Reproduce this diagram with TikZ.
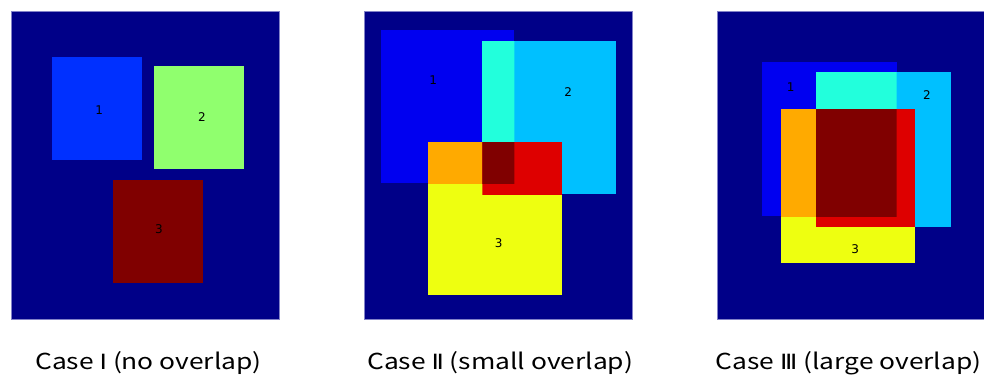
\documentclass[tikz,border=0pt]{standalone}
\usepackage{fontspec}
\newfontfamily\capfont{Noto Sans CJK KR}
\newfontfamily\numfont{DejaVu Sans}

% jet-style colours
\definecolor{bgnavy}{RGB}{0,0,136}
\definecolor{frameedge}{RGB}{130,130,200}
\definecolor{pOneA}{RGB}{0,48,255}
\definecolor{pOneB}{RGB}{144,255,110}
\definecolor{pOneC}{RGB}{128,0,0}
\definecolor{onlyA}{RGB}{0,0,240}
\definecolor{onlyB}{RGB}{0,192,255}
\definecolor{onlyC}{RGB}{238,255,16}
\definecolor{capAB}{RGB}{34,255,220}
\definecolor{capAC}{RGB}{255,170,0}
\definecolor{capBC}{RGB}{222,0,0}
\definecolor{capABC}{RGB}{128,0,0}

\newlength\capwd
\newcommand\capsize{\capfont\fontsize{22}{26}\selectfont}
% roman numerals come from DejaVu Sans
\newcommand\romnum[1]{{\numfont\fontsize{21}{26}\selectfont #1}}
% one common horizontal scale: the middle caption spans 266pt
\newcommand\capline[1]{%
  \setbox0=\hbox{Case \romnum{Ⅱ} (small overlap)}\capwd=\wd0\relax
  \pgfmathsetmacro\capsc{266/\capwd}%
  \scalebox{\capsc}[1]{#1}}

% three overlapping boxes A, B, C with every intersection coloured
\newcommand\overlapboxes[3]{%
  \fill[onlyA] #1; \fill[onlyB] #2; \fill[onlyC] #3;
  \begin{scope}\clip #1; \fill[capAB] #2; \fill[capAC] #3; \end{scope}
  \begin{scope}\clip #2; \fill[capBC] #3; \clip #1; \fill[capABC] #3; \end{scope}}

\tikzset{
  panel/.style={fill=bgnavy, draw=frameedge, line width=0.5pt},
  boxlabel/.style={font=\numfont\fontsize{12}{14}\selectfont, text=black, inner sep=0pt},
  caption/.style={font=\capsize, text=black, inner sep=0pt, anchor=base west}
}

\begin{document}
\begin{tikzpicture}[x=1pt, y=-1pt]
  \useasboundingbox (0,0) rectangle (984,375);
  \clip (0,0) rectangle (984,375);
  \fill[white] (0,0) rectangle (984,375);

  % Case I
  \draw[panel] (11,11) rectangle (279,319);
  \fill[pOneA] (51.7,57.3) rectangle (141.7,160);
  \fill[pOneB] (154.3,66.3) rectangle (244.3,169);
  \fill[pOneC] (113.3,180) rectangle (203,282.7);
  \node[boxlabel] (a1) at (99.3,110) {1};
  \node[boxlabel] (a2) at (202,116.7) {2};
  \node[boxlabel] (a3) at (159,228.7) {3};

  % Case II
  \draw[panel] (364,11) rectangle (632.7,319);
  \overlapboxes{(380.7,30) rectangle (514.3,183.3)}
               {(482.3,40.7) rectangle (616,194.3)}
               {(428,141.7) rectangle (562,295)}
  \node[boxlabel] (b1) at (433.3,80) {1};
  \node[boxlabel] (b2) at (568.3,91.7) {2};
  \node[boxlabel] (b3) at (498.7,243.3) {3};

  % Case III
  \draw[panel] (717.3,11) rectangle (986.5,319);
  \overlapboxes{(762.3,62) rectangle (896.7,216)}
               {(816,72.3) rectangle (950.7,226.7)}
               {(781.3,109.3) rectangle (915,263.3)}
  \node[boxlabel] (c1) at (790.7,87.3) {1};
  \node[boxlabel] (c2) at (927,95) {2};
  \node[boxlabel] (c3) at (855.3,249) {3};

  % captions
  \node[caption] (capI) at (35,369) {\capline{Case \romnum{Ⅰ} (no overlap)}};
  \node[caption] (capII) at (367,369) {\capline{Case \romnum{Ⅱ} (small overlap)}};
  \node[caption] (capIII) at (715.5,369) {\capline{Case \romnum{Ⅲ} (large overlap)}};
\end{tikzpicture}
\end{document}
